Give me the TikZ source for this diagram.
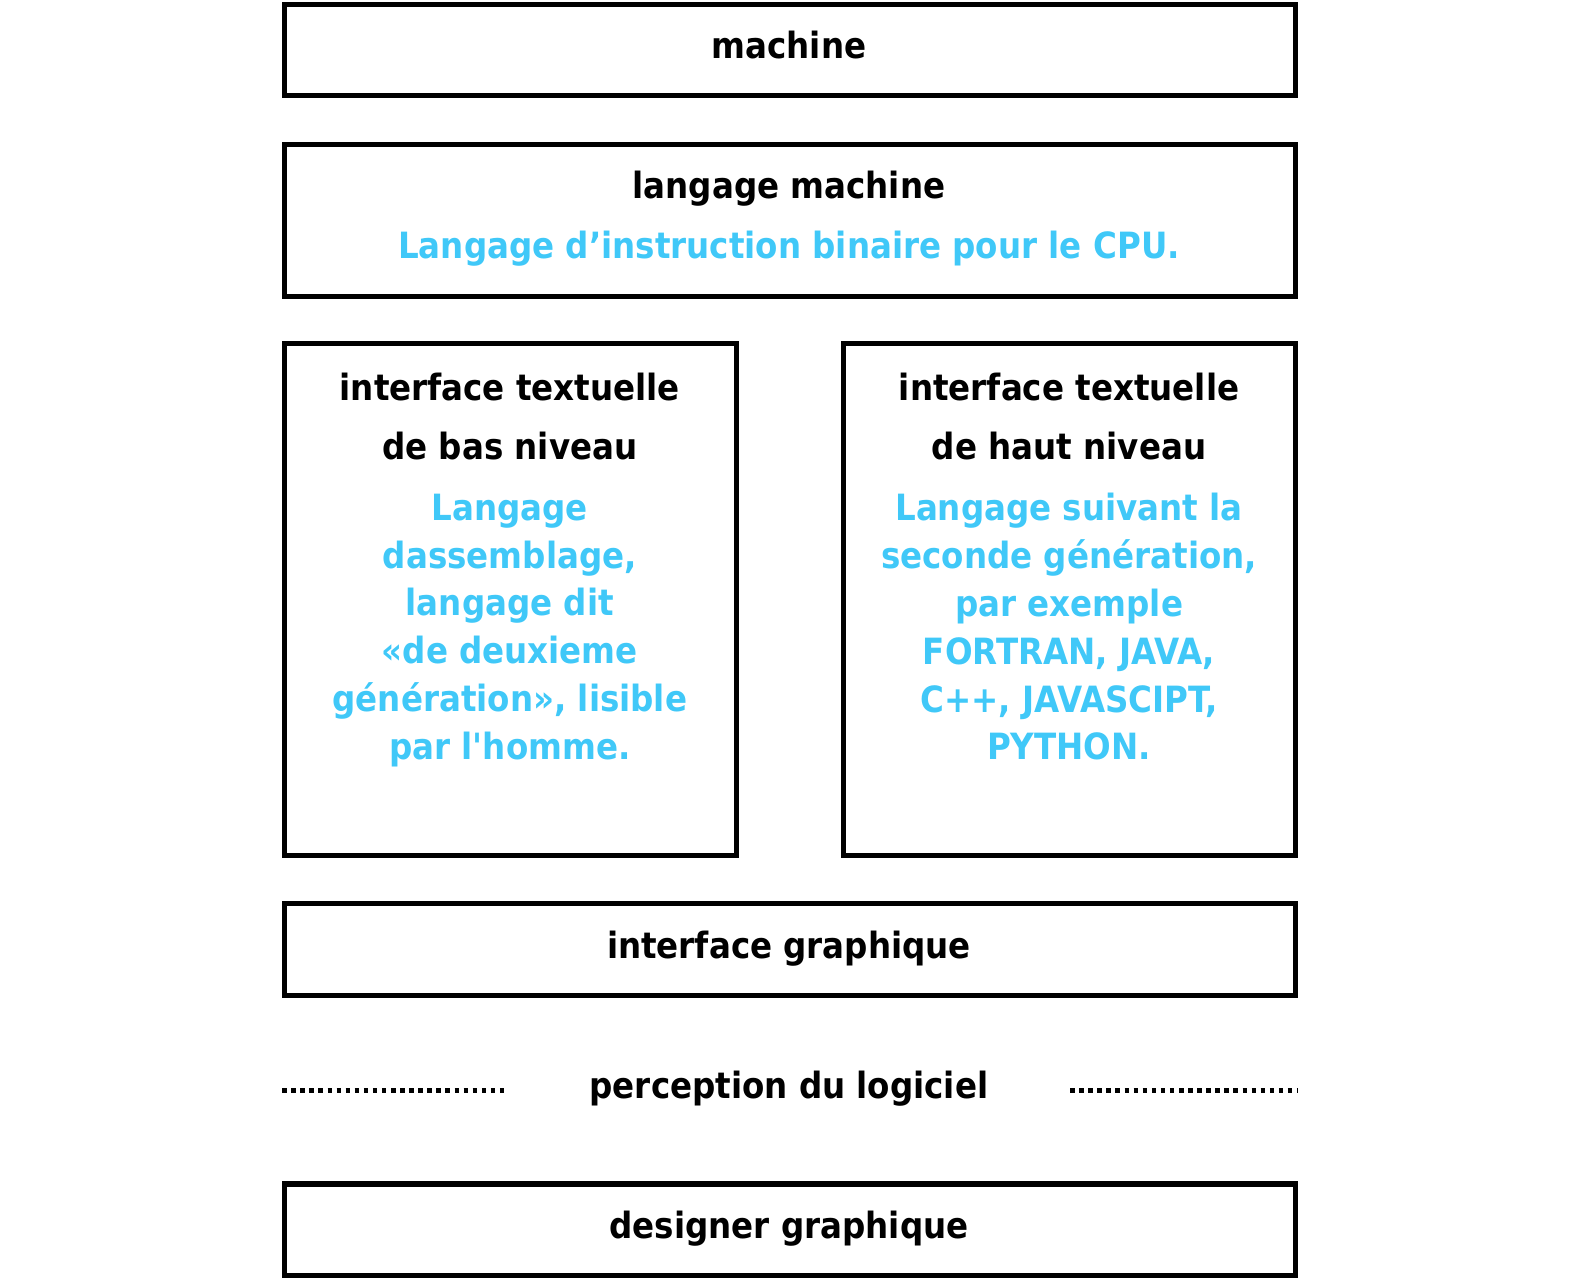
\documentclass[tikz,border=0pt]{standalone}
\usepackage{fontspec}
\newfontfamily\dvf{DejaVu Sans Condensed}
\definecolor{cyanblue}{HTML}{40C8F8}
\begin{document}%
\begin{tikzpicture}[x=0.01cm,y=-0.01cm,
  frame/.style={draw=black, line width=0.05cm},
  hd/.style={font=\dvf\fontsize{10.2pt}{16.8pt}\selectfont\bfseries, text=black, align=center, inner sep=0pt,
    execute at begin node=\strut, execute at end node=\strut},
  bl/.style={font=\dvf\fontsize{10.2pt}{13.5pt}\selectfont\bfseries, text=cyanblue, align=center, inner sep=0pt,
    execute at begin node=\strut, execute at end node=\strut},
  dots/.style={line width=0.045cm, dash pattern=on 0.045cm off 0.045cm}]%
\useasboundingbox (0,0) rectangle (1568,1270);
% boxes
\draw[frame] (282,4) rectangle (1286,95);
\node[hd] (m) at (783,46) {machine};
\draw[frame] (282,143) rectangle (1286,294);
\node[hd] (lm) at (783,185) {langage machine};
\node[bl] (lmb) at (783,247) {Langage d’instruction binaire pour le CPU.};
\draw[frame] (282,341) rectangle (731,849);
\node[hd] (l1) at (506,422) {interface textuelle\\de bas niveau};
\node[bl] (l2) at (506,629) {Langage\\dassemblage,\\langage dit\\«de deuxieme\\génération», lisible\\par l'homme.};
\draw[frame] (837,341) rectangle (1286,849);
\node[hd] (r1) at (1061,422) {interface textuelle\\de haut niveau};
\node[bl] (r2) at (1061,629) {Langage suivant la\\seconde génération,\\par exemple\\FORTRAN, JAVA,\\C++, JAVASCIPT,\\PYTHON.};
\draw[frame] (282,897) rectangle (1286,988);
\node[hd] (ig) at (783,939) {interface graphique};
\node[hd] (pl) at (783,1078) {perception du logiciel};
\coordinate (d1a) at (280,1082);
\coordinate (d1b) at (502,1082);
\coordinate (d2a) at (1062,1082);
\coordinate (d2b) at (1288,1082);
\draw[dots] (d1a) -- (d1b);
\draw[dots] (d2a) -- (d2b);
\draw[frame] (282,1175) rectangle (1286,1266);
\node[hd] (dg) at (783,1217) {designer graphique};
\end{tikzpicture}%
\end{document}
